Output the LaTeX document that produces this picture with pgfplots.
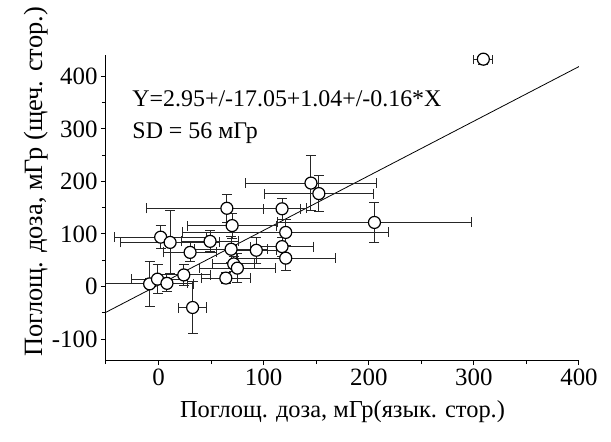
\documentclass[border=0pt]{standalone}
\usepackage{fontspec}
\setmainfont{Liberation Serif}
\usepackage{pgfplots}
\usepackage{pgfplotstable}
\pgfplotsset{compat=1.18}
\pgfplotstableread{
x y ex ey
145 197 62 53
152.5 177 52 34
65 149 76 27
117.5 148 18 20
70 116 42 24
121 103 98 25
205.4 122 92 38
2 94 44 22
11 84 47 60
49 86 27 20
30 65 25 18
69 71 35 25
93 69 19 25
117.5 76 30 18
121 54 47 24
71.5 43 20 15
75 35 36 28
64 16 23 10
24 22 25 20
-8.5 5 42 43
-1 14 25 27
8 6 20 16
32.4 -40 13 50
309 433 9 10
}\pts
\begin{document}
\begin{tikzpicture}
\begin{axis}[
  scale only axis,
  width=473bp, height=304.5bp,
  xmin=-50, xmax=400, ymin=-140, ymax=440,
  axis x line=bottom, axis y line=left,
  axis line style={-, line width=1bp},
  tick align=outside,
  xtick={0,100,200,300,400}, ytick={-100,0,100,200,300,400},
  minor xtick={-50,50,150,250,350}, minor ytick={-50,50,150,250,350},
  major tick length=5bp, minor tick length=4bp,
  every tick/.style={line width=1bp, black},
  /pgf/number format/assume math mode=true,
  ticklabel style={font=\fontsize{25}{25}\selectfont},
  xlabel={Поглощ. доза, мГр(язык. стор.)},
  xlabel style={font=\fontsize{24.5}{24.5}\selectfont, at={(axis description cs:0.5,-0.188)}, anchor=base, inner sep=0pt},
  ylabel={Поглощ. доза, мГр (щеч. стор.)},
  ylabel style={font=\fontsize{26.5}{26.5}\selectfont, at={(axis description cs:-0.1353,0.585)}, anchor=base, inner sep=0pt},
]
\addplot[black, line width=0.8bp] coordinates {(-50,-49.05) (400,418.95)};
\addplot[only marks, mark=*, mark size=6bp, mark options={fill=white, draw=black, line width=1.2bp},
  error bars/.cd, x dir=both, x explicit, y dir=both, y explicit,
  error bar style={line width=1bp, black!85},
  error mark=-,
  error mark options={rotate=90, mark size=5bp, line width=1bp, black!85}]
  table[x=x, y=y, x error=ex, y error=ey] {\pts};
\node[anchor=base west, inner sep=0pt, font=\fontsize{24}{24}\selectfont] at (axis cs:-25,343) {Y=2.95+/-17.05+1.04+/-0.16*X};
\node[anchor=base west, inner sep=0pt, font=\fontsize{24}{24}\selectfont] at (axis cs:-25,282.5) {SD = 56 мГр};
\end{axis}
\path[use as bounding box] (-106bp,-82bp) rectangle (505bp,360bp);
\end{tikzpicture}
\end{document}
